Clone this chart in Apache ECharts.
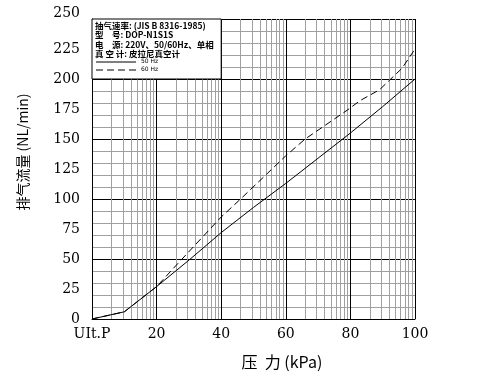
<!DOCTYPE html>
<html><head><meta charset="utf-8">
<script src="https://cdn.jsdelivr.net/npm/echarts@6/dist/echarts.min.js"></script>
<style>html,body{margin:0;padding:0;background:#fff}#c{width:497px;height:390px}</style>
</head><body><div id="c"></div>
<script>
// ---- data ----
var xTicks = [0, 20, 40, 60, 80, 100];
var xTickLabels = ['UIt.P', '20', '40', '60', '80', '100'];
var yTickLabels = [0, 25, 50, 75, 100, 125, 150, 175, 200, 225, 250];
var solidX = [0, 10, 20, 30, 40, 50, 60, 70, 80, 90, 100];
var solidY = [0, 6, 27, 49, 72, 93, 113, 134, 155, 177, 200];
var dashX = [0, 10, 20, 26.5, 40, 46, 60, 66, 79, 83, 89, 96, 100];
var dashY = [0, 6, 27, 46, 85, 100, 136, 150, 174, 182, 191, 209, 225];
var logCycle = [2, 3, 4, 5, 6, 7, 8, 9];
var legendLines = ['抽气速率: (JIS B 8316-1985)', '型　号: DOP-N1S1S', '电　源: 220V、50/60Hz、单相', '真 空 计: 皮拉尼真空计'];
var seriesNames = ['50 Hz', '60 Hz'];

var minorX = [];
for (var k = 0; k < 100; k += 20) logCycle.forEach(function (n) { minorX.push(k + 20 * Math.log10(n)); });

var chart = echarts.init(document.getElementById('c'));
var serif = 'DejaVu Serif';
var gridL = 92, gridT = 19, gridR = 82, gridB = 71;
chart.setOption({
  animation: false,
  grid: { left: gridL, top: gridT, right: gridR, bottom: gridB },
  xAxis: {
    type: 'value', min: 0, max: 100, interval: 20,
    axisLine: { lineStyle: { color: '#000', width: 1 } },
    axisTick: { show: false },
    axisLabel: { color: '#000', fontFamily: serif, fontSize: 14, margin: 8,
      formatter: function (v) { var i = xTicks.indexOf(v); return i >= 0 ? xTickLabels[i] : ''; } },
    splitLine: { show: true, lineStyle: { color: '#000', width: 1 } }
  },
  yAxis: [{
    type: 'value', min: 0, max: 250, interval: 25,
    axisLine: { show: true, lineStyle: { color: '#000' } },
    axisTick: { show: false },
    axisLabel: { color: '#000', fontFamily: serif, fontSize: 14, margin: 12,
      formatter: function (v) {
        if (yTickLabels.indexOf(v) < 0) return '';
        return v === 250 ? '{top|' + v + '}' : String(v);
      },
      rich: { top: { fontFamily: serif, fontSize: 14, color: '#000', padding: [0, 0, 12, 0] } } },
    splitLine: { show: false }
  }, {
    type: 'value', min: 0, max: 250, interval: 10, position: 'left',
    axisLine: { show: false }, axisTick: { show: false }, axisLabel: { show: false },
    splitLine: { show: true, lineStyle: { color: ['#000', '#a0a0a0', '#a0a0a0', '#a0a0a0', '#a0a0a0'], width: 1 } }
  }],
  series: [{
    name: seriesNames[0], type: 'line', yAxisIndex: 0, symbol: 'none',
    data: solidX.map(function (x, i) { return [x, solidY[i]]; }),
    lineStyle: { color: '#000', width: 1 }, z: 5,
    markLine: {
      silent: true, symbol: 'none', label: { show: false }, animation: false,
      lineStyle: { color: '#a0a0a0', type: 'solid', width: 1 },
      data: minorX.map(function (x) { return { xAxis: x }; })
    }
  }, {
    name: seriesNames[1], type: 'line', yAxisIndex: 0, symbol: 'none',
    data: dashX.map(function (x, i) { return [x, dashY[i]]; }),
    lineStyle: { color: '#000', width: 1, type: [7, 4] }, z: 5
  }]
});

var p0 = chart.convertToPixel({ gridIndex: 0 }, [0, 250]);
var p1 = chart.convertToPixel({ gridIndex: 0 }, [40, 200]);
var bx = p0[0], by = p0[1], bw = p1[0] - p0[0], bh = p1[1] - p0[1];
var els = [{
  type: 'rect', z: 50, shape: { x: bx, y: by, width: bw, height: bh },
  style: { fill: '#fff', stroke: '#000', lineWidth: 1 }
}];
legendLines.forEach(function (t, i) {
  els.push({ type: 'text', z: 51, x: bx + 3, y: by + 6.5 + i * 9.5,
    style: { text: t, fill: '#000', font: 'bold 8.5px "Noto Sans CJK SC", "DejaVu Sans Mono"', verticalAlign: 'middle' } });
});
els.push({ type: 'line', z: 51, shape: { x1: bx + 4, y1: by + 43, x2: bx + 44, y2: by + 43 }, style: { stroke: '#000', lineWidth: 1 } });
els.push({ type: 'line', z: 51, shape: { x1: bx + 4, y1: by + 51, x2: bx + 44, y2: by + 51 }, style: { stroke: '#000', lineWidth: 1, lineDash: [7, 4] } });
els.push({ type: 'text', z: 51, x: bx + 49, y: by + 42, style: { text: seriesNames[0], fill: '#000', font: '6px "DejaVu Sans"', verticalAlign: 'middle' } });
els.push({ type: 'text', z: 51, x: bx + 49, y: by + 50, style: { text: seriesNames[1], fill: '#000', font: '6px "DejaVu Sans"', verticalAlign: 'middle' } });
// axis titles
els.push({ type: 'text', z: 51, x: 23, y: 152, rotation: Math.PI / 2,
  style: { text: '排气流量 (NL/min)', fill: '#000', font: '14px "Noto Sans CJK SC"', align: 'center', verticalAlign: 'middle' } });
els.push({ type: 'text', z: 51, x: 282, y: 362,
  style: { text: '压  力 (kPa)', fill: '#000', font: '16px "Noto Sans CJK SC"', align: 'center', verticalAlign: 'middle' } });
chart.setOption({ graphic: els });
</script></body></html>
